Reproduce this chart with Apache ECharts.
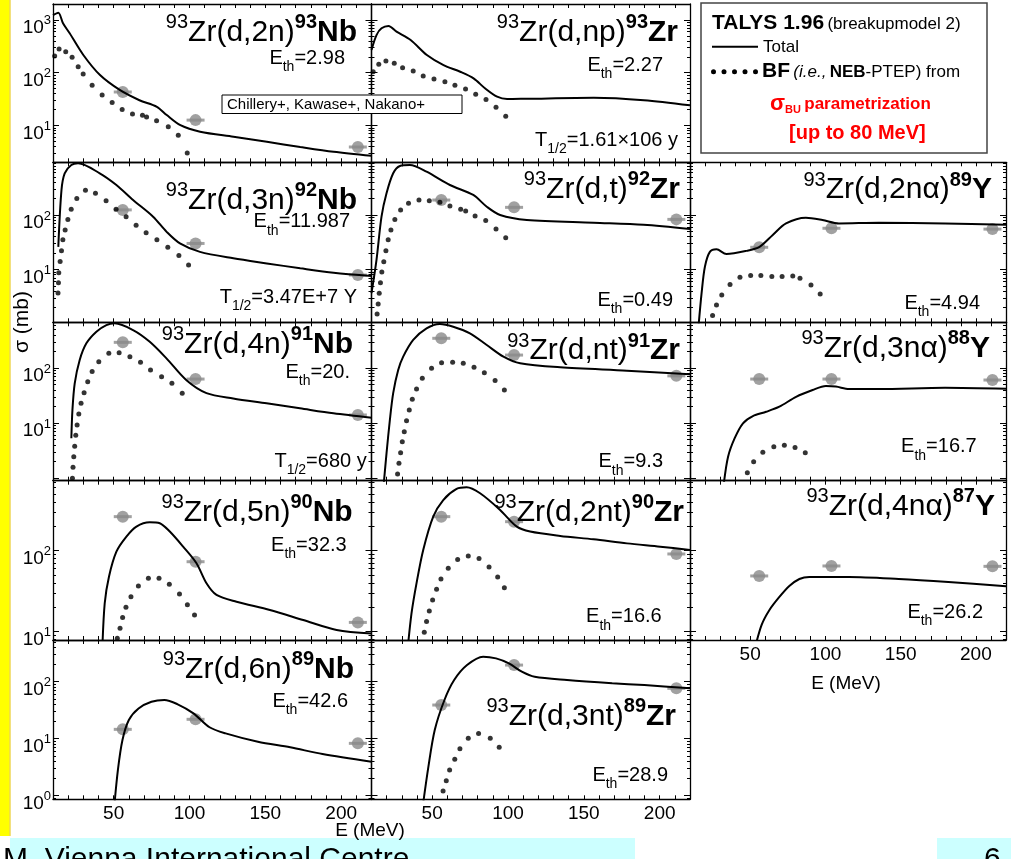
<!DOCTYPE html>
<html>
<head>
<meta charset="utf-8">
<script src="https://cdn.jsdelivr.net/npm/echarts@6/dist/echarts.min.js"></script>
<style>
html,body{margin:0;padding:0;background:#fff}
#chart{width:1011px;height:859px}
</style>
</head>
<body>
<div id="chart"></div>
<script>
// Deuteron energies of the measured cross sections (MeV)
const expEnergy = [56, 104, 211];

// 93Zr(d,2n)93Nb
const nb93Total = [[10,1230],[13.5,1370],[16.6,862],[21,557],[30,216],[41,90],[54,47],[67,30],[78.5,22.5],[85,15.7],[94,10.1],[107,7.6],[129,6.1],[151,4.9],[173,3.9],[195,3.16],[220,2.65]];
const nb93BF = [[11.1,207],[14,281],[18.4,249],[22.6,196],[26.6,129],[29.9,94],[35.8,58],[42.4,37.6],[49,27.3],[55.6,20],[62.4,16.5],[69,15.5],[71.7,14.5],[78.3,12.2],[86,9.4],[92.6,6.5],[98.5,3.0]];
const nb93Exp = [43, 12.6, 3.9];

// 93Zr(d,np)93Zr
const zr93Total = [[10,270],[13.3,516],[16.6,692],[21.2,766],[26.5,597],[35.8,415],[46.5,216],[57.5,139],[68.5,104],[77.3,78],[85,50],[92.8,35],[99.4,31.6],[112.6,32],[156.6,33.4],[189.7,30],[220,24]];
const zr93BF = [[11.1,104],[14.8,144],[19.5,166],[25,150],[30.5,124],[37.5,107],[44.1,86],[51.2,76],[58.4,67],[65,58],[72,49],[78.7,39],[85.5,31],[92.1,22],[98.5,15]];

// 93Zr(d,3n)92Nb
const nb92Total = [[13.5,26],[15.6,288],[17.7,582],[22.1,826],[26.5,890],[40.8,582],[51.8,355],[62.8,188],[76,93],[84.9,49],[93.7,30],[106.9,21],[128.9,16],[151,12.9],[173,10.5],[195,8.7],[220,7.6]];
const nb92BF = [[13.3,3.7],[13.6,5.7],[13.8,8.7],[14.7,14],[15.6,22],[16.5,35],[18,53],[19.8,83],[22,127],[25.7,200],[31.4,285],[38,250],[45,183],[51.6,127],[58.2,93],[64.8,65],[71.4,47],[78.5,35],[85.7,25.5],[93,18],[99.4,12]];
const nb92Exp = [124, 30, 7.9];

// 93Zr(d,t)92Zr
const zr92Total = [[10,3.66],[13.3,15],[16.6,93],[19.9,250],[24.3,582],[28.7,794],[35.3,826],[46.3,623],[61.7,355],[77.1,233],[86,142],[94.8,100],[112.4,81],[156.4,72],[189.4,66],[220,55]];
const zr92BF = [[13.7,1.52],[14.4,2.33],[15.1,3.66],[15.9,5.7],[16.8,9],[18.1,13.9],[19.5,22],[21,35],[22.8,53],[25.4,83],[29.2,124],[34.4,164],[41.3,188],[48.1,183],[55.1,171],[61.7,146],[68.8,127],[72.1,118],[78.3,96],[85.3,79],[92.1,55],[98.5,38]];
const zr92Exp = [188, 138, 83];

// 93Zr(d,2n alpha)89Y
const y89Total = [[15.5,0.8],[17.7,3.66],[19.9,11.2],[23.2,21],[27.6,23.4],[34.2,19.2],[47.4,21.9],[56.2,26],[65,43],[73.8,70],[87,89],[98,81],[109,70],[135.5,72],[179.5,70],[220,66]];
const y89BF = [[25,1.42],[27.6,2.23],[31.1,3.4],[36.6,5.3],[43.2,7.2],[50.3,7.7],[57.1,7.7],[64.4,7.4],[71.2,7.4],[78.3,7.6],[83.1,6.9],[90.4,5.2],[96.5,3.55]];
const y89Exp = [25.5, 57, 55];

// 93Zr(d,4n)91Nb
const nb91Total = [[22.1,5.3],[22.8,17],[24.3,52],[27.6,140],[32,281],[38.6,457],[45.2,604],[50.7,650],[62.8,490],[73.8,300],[84.8,150],[98,60],[111.2,35],[128.8,28],[150.8,22.8],[172.8,18.5],[194.9,15],[220,12.5]];
const nb91BF = [[22.8,0.99],[23.2,1.57],[23.7,2.44],[24.3,3.8],[25,6],[25.9,9.2],[27,14.6],[28.5,22.8],[30.5,35.6],[32.9,56],[35.8,86],[40.2,130],[46.8,185],[53.6,190],[60.7,161],[67.7,127],[74.3,92],[81.6,69.5],[88.4,52.6],[95.2,34.7]];
const nb91Exp = [293, 63, 14];

// 93Zr(d,nt)91Zr
const zr91Total = [[18.1,0.8],[19.9,2.8],[22.1,11.3],[24.3,35],[27.6,92],[30.9,161],[37.5,324],[46.3,525],[55.1,631],[63.9,563],[74.9,427],[86,262],[97,161],[108,122],[134.4,103],[178.4,89.5],[220,77]];
const zr91BF = [[27.2,1.18],[28.1,1.85],[29.2,2.88],[30.3,4.57],[31.6,6.95],[33.1,11],[34.9,17.2],[36.9,27],[39.7,41.5],[43.5,65],[49.6,98.7],[56.2,125],[63.5,127],[70.5,122],[77.6,103],[84.4,82],[91.5,59],[97.6,40]];
const zr91Exp = [347, 172, 72];

// 93Zr(d,3n alpha)88Y
const y88Total = [[32.5,0.8],[35.3,2.44],[39.7,5.3],[45.2,9.9],[51.8,13.4],[60.6,16],[69.4,19.8],[80.5,30],[91.5,39.8],[100.3,47],[106.9,46],[115.7,41.5],[135.5,41.5],[179.5,43.8],[220,42]];
const y88BF = [[48.1,1.25],[52.3,1.98],[58.4,2.93],[65.7,3.7],[72.7,3.93],[79.8,3.6],[86.6,2.88]];
const y88Exp = [63, 63, 60.5];

// 93Zr(d,5n)90Nb
const nb90Total = [[42.5,6],[44.1,22.4],[46.9,47.7],[51.8,97],[58.4,149],[65,198],[73.8,224],[80.4,218],[87,172],[95.8,112],[104.6,70],[111.2,39.6],[117.8,28.4],[131,23.4],[153,18.5],[175,13.9],[197,10.5],[220,9.5]];
const nb90BF = [[52.4,8.3],[54.2,11],[55.9,14.9],[58.1,20],[61.4,27],[66.3,36.6],[72.9,45.6],[79.9,45.6],[86.7,38.4],[93.4,29.2],[98.6,21.4],[103.3,16]];
const nb90Exp = [263, 73, 13];

// 93Zr(d,2nt)90Zr
const zr90Total = [[33.8,6],[36.4,16.9],[39.7,39.7],[44.1,102],[50.7,263],[57.3,422],[66.1,578],[72.7,606],[81.6,511],[94.8,318],[105.8,198],[114.6,172],[134.4,152],[156.4,138],[178.4,123],[200.4,112],[220,102]];
const zr90BF = [[44.8,9.8],[46.3,13.3],[48.1,18],[50.3,24.6],[52.9,33.4],[55.8,44.7],[60.6,60.6],[66.8,78],[73.8,86],[80.9,79.8],[87.5,63],[93.2,47.3],[97.6,34.9]];
const zr90Exp = [263, 228, 91];

// 93Zr(d,4n alpha)87Y
const y87Total = [[52.9,6],[57.6,12.1],[62.8,18.5],[69.4,26.8],[76,36.6],[82.7,44.7],[89.3,47.3],[115.7,47.3],[148.7,44.7],[181.7,41],[220,36.4]];
const y87Exp = [48.7, 64.7, 64];

// 93Zr(d,6n)89Nb
const nb89Total = [[50,0.5],[52.8,2.83],[55.8,9.5],[60,21.3],[66.4,34],[74.9,44.6],[83.4,48],[91.9,40.6],[102.6,27.9],[113.2,15.9],[123.8,12.4],[145.1,8.85],[166.4,7.06],[187.7,5.4],[220,3.94]];
const nb89Exp = [14.6, 21.9, 8.3];

// 93Zr(d,3nt)89Zr
const zr89Total = [[43.2,0.5],[47.5,3.2],[51.7,14.2],[58.1,47.8],[64.5,107],[73,196],[83.6,275],[92.1,257],[100.6,210],[109.1,150],[117.6,122],[138.9,107],[168.7,94],[189.9,87.5],[220,76.6]];
const zr89BF = [[57.2,1.21],[59.3,1.83],[61.5,2.82],[64.9,4.35],[68.3,6.7],[73.8,10.2],[80.6,12.4],[88.3,10.2],[94.2,7.06]];
const zr89Exp = [39, 196, 76.6];

// Axis tick labels
const xTickLabels = [50, 100, 150, 200];
const rowYLabels = [[10, 100, 1000], [10, 100], [10, 100], [10, 100], [1, 10, 100]];

// ---- layout ----
const FONT = '"Liberation Sans", Arial, Helvetica, sans-serif';
const colBox = [[53, 318.5], [371.5, 318.5], [690, 316]];
const rowBox = [[4, 158.3], [162.3, 160], [322.3, 158.4], [480.7, 159.3], [640, 159.3]];
const rowRange = [[2.0, 2000], [1.07, 927], [0.894, 678], [7.88, 731], [0.865, 540]];

const panels = [
  {r:0,c:0,total:nb93Total,bf:nb93BF,exp:nb93Exp,title:['93','Zr(d,2n)','93','Nb'],tx:357,tb:43.3,eth:'2.98',ex:345,ey:58},
  {r:0,c:1,total:zr93Total,bf:zr93BF,exp:null,title:['93','Zr(d,np)','93','Zr'],tx:678,tb:43.3,eth:'2.27',ex:663,ey:65,half:'=1.61×106 y',hx:678,hy:140},
  {r:1,c:0,total:nb92Total,bf:nb92BF,exp:nb92Exp,title:['93','Zr(d,3n)','92','Nb'],tx:357,tb:211,eth:'11.987',ex:350,ey:221.7,half:'=3.47E+7 Y',hx:357,hy:297.5},
  {r:1,c:1,total:zr92Total,bf:zr92BF,exp:zr92Exp,title:['93','Zr(d,t)','92','Zr'],tx:680,tb:200,eth:'0.49',ex:673,ey:300},
  {r:1,c:2,total:y89Total,bf:y89BF,exp:y89Exp,title:['93','Zr(d,2nα)','89','Y'],tx:992,tb:200.7,eth:'4.94',ex:980,ey:303},
  {r:2,c:0,total:nb91Total,bf:nb91BF,exp:nb91Exp,title:['93','Zr(d,4n)','91','Nb'],tx:353,tb:355,eth:'20.',ex:350,ey:372.5,half:'=680 y',hx:366.7,hy:461},
  {r:2,c:1,total:zr91Total,bf:zr91BF,exp:zr91Exp,title:['93','Zr(d,nt)','91','Zr'],tx:680,tb:361.7,eth:'9.3',ex:663,ey:461.7},
  {r:2,c:2,total:y88Total,bf:y88BF,exp:y88Exp,title:['93','Zr(d,3nα)','88','Y'],tx:990,tb:359,eth:'16.7',ex:976.7,ey:446.7},
  {r:3,c:0,total:nb90Total,bf:nb90BF,exp:nb90Exp,title:['93','Zr(d,5n)','90','Nb'],tx:352.7,tb:523,eth:'32.3',ex:346.7,ey:545},
  {r:3,c:1,total:zr90Total,bf:zr90BF,exp:zr90Exp,title:['93','Zr(d,2nt)','90','Zr'],tx:684,tb:523,eth:'16.6',ex:661.7,ey:616.7},
  {r:3,c:2,total:y87Total,bf:null,exp:y87Exp,title:['93','Zr(d,4nα)','87','Y'],tx:995,tb:517,eth:'26.2',ex:983,ey:612},
  {r:4,c:0,total:nb89Total,bf:null,exp:nb89Exp,title:['93','Zr(d,6n)','89','Nb'],tx:354,tb:680,eth:'42.6',ex:348,ey:701},
  {r:4,c:1,total:zr89Total,bf:zr89BF,exp:zr89Exp,title:['93','Zr(d,3nt)','89','Zr'],tx:676,tb:727,eth:'28.9',ex:668,ey:775}
];

function decadeTicks(lo, hi, minor) {
  const out = [];
  for (let k = -1; k <= 4; k++) {
    const base = Math.pow(10, k);
    const mults = minor ? [2,3,4,5,6,7,8,9] : [1];
    mults.forEach(m => { const v = +(m * base).toPrecision(6); if (v > lo && v < hi) out.push(v); });
  }
  return out;
}

const grid = [], xAxis = [], yAxis = [], series = [], graphic = [];
const BLACK = '#000';
const GREY = '#8a8a8a';

panels.forEach((p, i) => {
  const [left, width] = colBox[p.c];
  const [top, height] = rowBox[p.r];
  const [lo, hi] = rowRange[p.r];
  grid.push({left, top, width, height, containLabel: false, show: false});

  const showX = (p.r === 4 && p.c < 2) || (p.r === 3 && p.c === 2);
  const xCommon = {
    gridIndex: i, type: 'value', min: 10, max: 220, interval: 10,
    axisLine: {show: true, onZero: false, lineStyle: {color: BLACK, width: 1.3}},
    axisTick: {show: true, inside: true, length: 4, lineStyle: {color: BLACK, width: 1}},
    splitLine: {show: false}
  };
  xAxis.push(Object.assign({}, xCommon, {
    position: 'bottom',
    axisLabel: {
      show: showX, margin: 5, color: BLACK, fontSize: 19, fontFamily: FONT,
      formatter: v => xTickLabels.indexOf(v) >= 0 ? String(v) : ''
    }
  }));
  xAxis.push(Object.assign({}, xCommon, {position: 'top', axisLabel: {show: false}}));

  const majors = decadeTicks(lo, hi, false);
  const minors = decadeTicks(lo, hi, true);
  const yCommon = {gridIndex: i, type: 'log', logBase: 10, min: lo, max: hi, splitLine: {show: false}};
  const lineOn = {show: true, onZero: false, lineStyle: {color: BLACK, width: 1.3}};
  yAxis.push(Object.assign({}, yCommon, {
    position: 'left', axisLine: lineOn,
    axisTick: {show: true, inside: true, length: 6, customValues: majors, lineStyle: {color: BLACK}},
    axisLabel: {
      show: p.c === 0, customValues: rowYLabels[p.r], margin: 2, padding: [16, 0, 0, 0],
      formatter: v => '{b|10}{s|' + Math.round(Math.log10(v)) + '}',
      rich: {
        b: {fontSize: 19, fontFamily: FONT, color: BLACK},
        s: {fontSize: 13, fontFamily: FONT, color: BLACK, padding: [0, 0, 14, 0]}
      }
    }
  }));
  yAxis.push(Object.assign({}, yCommon, {
    position: 'left', axisLine: {show: false},
    axisTick: {show: true, inside: true, length: 3, customValues: minors, lineStyle: {color: BLACK}},
    axisLabel: {show: false}
  }));
  yAxis.push(Object.assign({}, yCommon, {
    position: 'right', axisLine: lineOn,
    axisTick: {show: true, inside: true, length: 6, customValues: majors, lineStyle: {color: BLACK}},
    axisLabel: {show: false}
  }));
  yAxis.push(Object.assign({}, yCommon, {
    position: 'right', axisLine: {show: false},
    axisTick: {show: true, inside: true, length: 3, customValues: minors, lineStyle: {color: BLACK}},
    axisLabel: {show: false}
  }));

  const xi = 2 * i, yi = 4 * i;
  if (p.exp) {
    const pts = expEnergy.map((e, k) => [e, p.exp[k]]);
    series.push({type: 'scatter', xAxisIndex: xi, yAxisIndex: yi, data: pts, symbol: 'rect', symbolSize: [18, 3],
      itemStyle: {color: GREY}, z: 2, silent: true});
    series.push({type: 'scatter', xAxisIndex: xi, yAxisIndex: yi, data: pts, symbol: 'circle', symbolSize: 12,
      itemStyle: {color: GREY}, z: 2, silent: true});
  }
  series.push({type: 'line', xAxisIndex: xi, yAxisIndex: yi, data: p.total, smooth: 0.3, showSymbol: false,
    clip: true, lineStyle: {color: BLACK, width: 2}, z: 3, silent: true});
  if (p.bf) {
    series.push({type: 'scatter', xAxisIndex: xi, yAxisIndex: yi, data: p.bf, symbol: 'circle', symbolSize: 5,
      itemStyle: {color: BLACK}, z: 4, silent: true});
  }

  // reaction title
  graphic.push({
    type: 'text', x: p.tx, y: p.tb - 10.5, z: 50,
    style: {
      text: '{s|' + p.title[0] + '}{m|' + p.title[1] + '}{sb|' + p.title[2] + '}{mb|' + p.title[3] + '}',
      align: 'right', verticalAlign: 'middle', fill: BLACK,
      rich: {
        s: {fontSize: 20, fontFamily: FONT, fill: BLACK, lineHeight: 22, padding: [0, 0, 20, 0]},
        m: {fontSize: 30, fontFamily: FONT, fill: BLACK, lineHeight: 34},
        sb: {fontSize: 20, fontFamily: FONT, fontWeight: 'bold', fill: BLACK, lineHeight: 22, padding: [0, 0, 20, 0]},
        mb: {fontSize: 30, fontFamily: FONT, fontWeight: 'bold', fill: BLACK, lineHeight: 34}
      }
    }
  });
  const subRich = {
    e: {fontSize: 20, fontFamily: FONT, fill: BLACK, lineHeight: 24},
    sub: {fontSize: 14, fontFamily: FONT, fill: BLACK, lineHeight: 16, padding: [18, 0, 0, 0]}
  };
  graphic.push({
    type: 'text', x: p.ex, y: p.ey, z: 50,
    style: {text: '{e|E}{sub|th}{e|=' + p.eth + '}', align: 'right', verticalAlign: 'middle', fill: BLACK, rich: subRich}
  });
  if (p.half) {
    graphic.push({
      type: 'text', x: p.hx, y: p.hy, z: 50,
      style: {text: '{e|T}{sub|1/2}{e|' + p.half + '}', align: 'right', verticalAlign: 'middle', fill: BLACK, rich: subRich}
    });
  }
});

// Page decorations: side strip and footer bars
graphic.push({type: 'rect', shape: {x: 0, y: 0, width: 9.5, height: 836}, style: {fill: '#ffff00'}, z: 1});
graphic.push({type: 'rect', shape: {x: 9.5, y: 0, width: 1, height: 836}, style: {fill: '#e6c200'}, z: 1});
graphic.push({type: 'rect', shape: {x: 10, y: 838, width: 625, height: 21}, style: {fill: '#ccffff'}, z: 1});
graphic.push({type: 'rect', shape: {x: 937, y: 838, width: 74, height: 21}, style: {fill: '#ccffff'}, z: 1});
graphic.push({type: 'text', x: 3, y: 860, z: 5,
  style: {text: 'M. Vienna International Centre', fontSize: 30, fontFamily: FONT, fill: BLACK, align: 'left', verticalAlign: 'middle'}});
graphic.push({type: 'text', x: 984, y: 860, z: 5,
  style: {text: '6', fontSize: 30, fontFamily: FONT, fill: BLACK, align: 'left', verticalAlign: 'middle'}});

// Axis titles
graphic.push({type: 'text', x: 22, y: 322, rotation: Math.PI / 2, z: 50,
  style: {text: 'σ (mb)', fontSize: 21, fontFamily: FONT, fill: BLACK, align: 'center', verticalAlign: 'middle'}});
graphic.push({type: 'text', x: 370, y: 831, z: 50,
  style: {text: 'E (MeV)', fontSize: 19, fontFamily: FONT, fill: BLACK, align: 'center', verticalAlign: 'middle'}});
graphic.push({type: 'text', x: 846, y: 684, z: 50,
  style: {text: 'E (MeV)', fontSize: 19, fontFamily: FONT, fill: BLACK, align: 'center', verticalAlign: 'middle'}});

// Data source box
graphic.push({type: 'rect', shape: {x: 222, y: 95, width: 240, height: 18.5}, z: 60,
  style: {fill: '#fff', stroke: '#000', lineWidth: 1}});
graphic.push({type: 'text', x: 227, y: 104.5, z: 61,
  style: {text: 'Chillery+, Kawase+, Nakano+', fontSize: 15, fontFamily: FONT, fill: BLACK, align: 'left', verticalAlign: 'middle'}});

// Legend box
graphic.push({type: 'rect', shape: {x: 701, y: 3, width: 286, height: 150}, z: 60,
  style: {fill: '#fff', stroke: '#444', lineWidth: 1.5}});
graphic.push({type: 'text', x: 712, y: 23, z: 61,
  style: {text: '{b|TALYS 1.96} {n|(breakupmodel 2)}', align: 'left', verticalAlign: 'middle', fill: BLACK,
    rich: {b: {fontSize: 21, fontWeight: 'bold', fontFamily: FONT, fill: BLACK},
           n: {fontSize: 17, fontFamily: FONT, fill: BLACK, padding: [3, 0, 0, 0]}}}});
graphic.push({type: 'line', shape: {x1: 712, y1: 46.7, x2: 758, y2: 46.7}, z: 61, style: {stroke: BLACK, lineWidth: 2}});
graphic.push({type: 'text', x: 763, y: 47, z: 61,
  style: {text: 'Total', fontSize: 17, fontFamily: FONT, fill: BLACK, align: 'left', verticalAlign: 'middle'}});
[713.5, 724, 734.5, 745, 755.5].forEach(cx => {
  graphic.push({type: 'circle', shape: {cx: cx, cy: 71.7, r: 2.5}, z: 61, style: {fill: BLACK}});
});
graphic.push({type: 'text', x: 762, y: 71, z: 61,
  style: {text: '{bb|BF} {i|(i.e.,} {nb|NEB}{n|-PTEP) from}', align: 'left', verticalAlign: 'middle', fill: BLACK,
    rich: {bb: {fontSize: 21, fontWeight: 'bold', fontFamily: FONT, fill: BLACK},
           i: {fontSize: 17, fontStyle: 'italic', fontFamily: FONT, fill: BLACK, padding: [3, 0, 0, 0]},
           nb: {fontSize: 17, fontWeight: 'bold', fontFamily: FONT, fill: BLACK, padding: [3, 0, 0, 0]},
           n: {fontSize: 17, fontFamily: FONT, fill: BLACK, padding: [3, 0, 0, 0]}}}});
graphic.push({type: 'text', x: 770, y: 104, z: 61,
  style: {text: '{sg|σ}{sub|BU} {rb|parametrization}', align: 'left', verticalAlign: 'middle', fill: '#ff0000',
    rich: {sg: {fontSize: 22, fontWeight: 'bold', fontFamily: FONT, fill: '#ff0000'},
           sub: {fontSize: 11, fontWeight: 'bold', fontFamily: FONT, fill: '#ff0000', padding: [12, 0, 0, 0]},
           rb: {fontSize: 17, fontWeight: 'bold', fontFamily: FONT, fill: '#ff0000'}}}});
graphic.push({type: 'text', x: 789, y: 133.5, z: 61,
  style: {text: '[up to 80 MeV]', fontSize: 20, fontWeight: 'bold', fontFamily: FONT, fill: '#ff0000', align: 'left', verticalAlign: 'middle'}});

const chart = echarts.init(document.getElementById('chart'), null, {renderer: 'canvas'});
chart.setOption({
  backgroundColor: '#fff',
  animation: false,
  grid: grid,
  xAxis: xAxis,
  yAxis: yAxis,
  series: series,
  graphic: graphic
});
</script>
</body>
</html>
